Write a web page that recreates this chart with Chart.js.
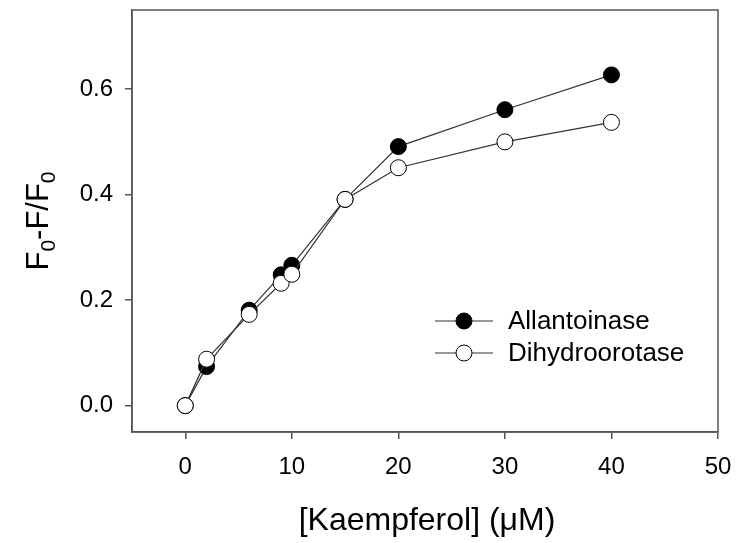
<!DOCTYPE html>
<html>
<head>
<meta charset="utf-8">
<script src="https://cdn.jsdelivr.net/npm/chart.js@4.4.1/dist/chart.umd.min.js"></script>
<style>
  html, body { margin: 0; padding: 0; background: #fff; }
  #wrap { width: 737px; height: 543px; }
</style>
</head>
<body>
<div id="wrap"><canvas id="chart" width="737" height="543"></canvas></div>
<script>
// data
const concentrations = [0, 2, 6, 9, 10, 15, 20, 30, 40];
const allantoinase = [0, 0.074, 0.181, 0.248, 0.266, 0.391, 0.491, 0.561, 0.627];
const dihydroorotase = [0, 0.088, 0.173, 0.232, 0.249, 0.391, 0.451, 0.500, 0.537];
const seriesNames = ['Allantoinase', 'Dihydroorotase'];
const xTicks = [0, 10, 20, 30, 40, 50];
const yTicks = [0.0, 0.2, 0.4, 0.6];

const FONT = "'Liberation Sans', Arial, sans-serif";
const AXIS_GREY = '#555';

function toPoints(values) {
    return concentrations.map((c, i) => ({ x: c, y: values[i] }));
}

function noScalePadding(scale) {
    scale.paddingTop = 0;
    scale.paddingBottom = 0;
    scale.paddingLeft = 0;
    scale.paddingRight = 0;
}

// frame, y title with subscripts, x title and legend
const decorations = {
    id: 'decorations',
    afterDraw(chart) {
        const ctx = chart.ctx;
        const area = chart.chartArea;
        ctx.save();

        // box around plot
        ctx.strokeStyle = AXIS_GREY;
        ctx.lineWidth = 1.5;
        ctx.strokeRect(area.left, area.top, area.right - area.left, area.bottom - area.top);

        // x title
        ctx.fillStyle = '#000';
        ctx.font = `32px ${FONT}`;
        ctx.textAlign = 'center';
        ctx.textBaseline = 'middle';
        ctx.fillText('[Kaempferol] (\u03bcM)', (area.left + area.right) / 2 + 2, 521);

        // y title: F0-F/F0, rotated
        ctx.translate(38, 221);
        ctx.rotate(-Math.PI / 2);
        const parts = [['F', false], ['0', true], ['-F/F', false], ['0', true]];
        const big = `31px ${FONT}`, small = `21px ${FONT}`;
        let total = 0;
        parts.forEach(([t, sub]) => {
            ctx.font = sub ? small : big;
            total += ctx.measureText(t).width;
        });
        let xpos = -total / 2;
        ctx.textAlign = 'left';
        ctx.textBaseline = 'alphabetic';
        parts.forEach(([t, sub]) => {
            ctx.font = sub ? small : big;
            ctx.fillText(t, xpos, sub ? 17 : 10);
            xpos += ctx.measureText(t).width;
        });
        ctx.setTransform(1, 0, 0, 1, 0, 0);

        // legend
        const rows = [321, 353];
        chart.data.datasets.forEach((ds, i) => {
            const y = rows[i];
            ctx.strokeStyle = ds.borderColor;
            ctx.lineWidth = ds.borderWidth;
            ctx.beginPath();
            ctx.moveTo(435, y);
            ctx.lineTo(493, y);
            ctx.stroke();
            ctx.beginPath();
            ctx.arc(464, y, ds.pointRadius, 0, Math.PI * 2);
            ctx.fillStyle = ds.pointBackgroundColor;
            ctx.fill();
            ctx.strokeStyle = ds.pointBorderColor;
            ctx.lineWidth = ds.pointBorderWidth;
            ctx.stroke();
            ctx.fillStyle = '#000';
            ctx.font = `26px ${FONT}`;
            ctx.textAlign = 'left';
            ctx.textBaseline = 'middle';
            ctx.fillText(ds.label, 508, y + 1);
        });

        ctx.restore();
    }
};

new Chart(document.getElementById('chart'), {
    type: 'scatter',
    data: {
        datasets: [
            {
                label: seriesNames[0],
                data: toPoints(allantoinase),
                showLine: true,
                borderColor: '#333',
                borderWidth: 1.2,
                pointRadius: 8,
                pointBackgroundColor: '#000',
                pointBorderColor: '#000',
                pointBorderWidth: 1,
                order: 1
            },
            {
                label: seriesNames[1],
                data: toPoints(dihydroorotase),
                showLine: true,
                borderColor: '#333',
                borderWidth: 1.2,
                pointRadius: 8,
                pointBackgroundColor: '#fff',
                pointBorderColor: '#000',
                pointBorderWidth: 1,
                order: 0
            }
        ]
    },
    options: {
        responsive: false,
        animation: false,
        layout: { padding: { left: 0, right: 19, top: 10, bottom: 0 } },
        plugins: {
            legend: { display: false },
            tooltip: { enabled: false }
        },
        scales: {
            x: {
                type: 'linear',
                min: -5,
                max: 50,
                afterBuildTicks: (scale) => { scale.ticks = xTicks.map(v => ({ value: v })); },
                afterFit: (scale) => { scale.height = 111; noScalePadding(scale); },
                grid: { drawOnChartArea: false, tickLength: 7, color: AXIS_GREY, lineWidth: 1.5 },
                border: { display: true, color: AXIS_GREY, width: 1.5 },
                ticks: {
                    color: '#000',
                    padding: 14,
                    maxRotation: 0,
                    font: { family: FONT, size: 24 }
                }
            },
            y: {
                type: 'linear',
                min: -0.05,
                max: 0.75,
                afterBuildTicks: (scale) => { scale.ticks = yTicks.map(v => ({ value: v })); },
                afterFit: (scale) => { scale.width = 132; noScalePadding(scale); },
                grid: { drawOnChartArea: false, tickLength: 7, color: AXIS_GREY, lineWidth: 1.5 },
                border: { display: true, color: AXIS_GREY, width: 1.5 },
                ticks: {
                    color: '#000',
                    padding: 12,
                    font: { family: FONT, size: 24 },
                    callback: (v) => Number(v).toFixed(1)
                }
            }
        }
    },
    plugins: [decorations]
});
</script>
</body>
</html>
